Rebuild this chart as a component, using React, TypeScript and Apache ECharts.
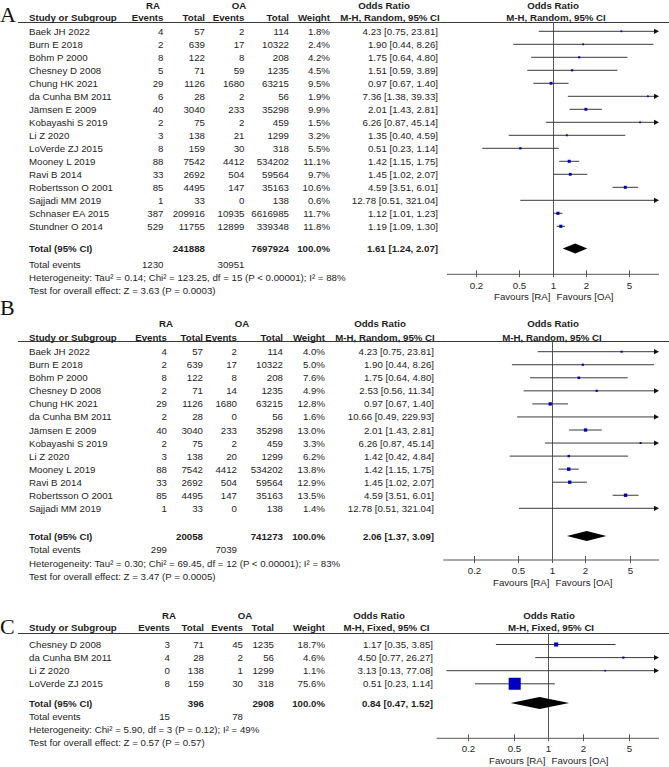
import React, { useEffect, useRef } from "react";
import * as echarts from "echarts";

// ---------------- Panel A data ----------------
const studiesA = ["Baek JH 2022", "Burn E 2018", "Böhm P 2000", "Chesney D 2008", "Chung HK 2021", "da Cunha BM 2011", "Jämsen E 2009", "Kobayashi S 2019", "Li Z 2020", "LoVerde ZJ 2015", "Mooney L 2019", "Ravi B 2014", "Robertsson O 2001", "Sajjadi MM 2019", "Schnaser EA 2015", "Stundner O 2014"];
const raEventsA = [4, 2, 8, 5, 29, 6, 40, 2, 3, 8, 88, 33, 85, 1, 387, 529];
const raTotalA = [57, 639, 122, 71, 1126, 28, 3040, 75, 138, 159, 7542, 2692, 4495, 33, 209916, 11755];
const oaEventsA = [2, 17, 8, 59, 1680, 2, 233, 2, 21, 30, 4412, 504, 147, 0, 10935, 12899];
const oaTotalA = [114, 10322, 208, 1235, 63215, 56, 35298, 459, 1299, 318, 534202, 59564, 35163, 138, 6616985, 339348];
const weightA = [1.8, 2.4, 4.2, 4.5, 9.5, 1.9, 9.9, 1.5, 3.2, 5.5, 11.1, 9.7, 10.6, 0.6, 11.7, 11.8];
const orA = [4.23, 1.9, 1.75, 1.51, 0.97, 7.36, 2.01, 6.26, 1.35, 0.51, 1.42, 1.45, 4.59, 12.78, 1.12, 1.19];
const loA = [0.75, 0.44, 0.64, 0.59, 0.67, 1.38, 1.43, 0.87, 0.4, 0.23, 1.15, 1.02, 3.51, 0.51, 1.01, 1.09];
const hiA = [23.81, 8.26, 4.8, 3.89, 1.4, 39.33, 2.81, 45.14, 4.59, 1.14, 1.75, 2.07, 6.01, 321.04, 1.23, 1.3];
const totalA = { raTotal: 241888, oaTotal: 7697924, or: 1.61, lo: 1.24, hi: 2.07, raEvents: 1230, oaEvents: 30951 };
const hetA = "Heterogeneity: Tau² = 0.14; Chi² = 123.25, df = 15 (P < 0.00001); I² = 88%";
const testA = "Test for overall effect: Z = 3.63 (P = 0.0003)";

// ---------------- Panel B data ----------------
const studiesB = ["Baek JH 2022", "Burn E 2018", "Böhm P 2000", "Chesney D 2008", "Chung HK 2021", "da Cunha BM 2011", "Jämsen E 2009", "Kobayashi S 2019", "Li Z 2020", "Mooney L 2019", "Ravi B 2014", "Robertsson O 2001", "Sajjadi MM 2019"];
const raEventsB = [4, 2, 8, 2, 29, 2, 40, 2, 3, 88, 33, 85, 1];
const raTotalB = [57, 639, 122, 71, 1126, 28, 3040, 75, 138, 7542, 2692, 4495, 33];
const oaEventsB = [2, 17, 8, 14, 1680, 0, 233, 2, 20, 4412, 504, 147, 0];
const oaTotalB = [114, 10322, 208, 1235, 63215, 56, 35298, 459, 1299, 534202, 59564, 35163, 138];
const weightB = [4.0, 5.0, 7.6, 4.9, 12.8, 1.6, 13.0, 3.3, 6.2, 13.8, 12.9, 13.5, 1.4];
const orB = [4.23, 1.9, 1.75, 2.53, 0.97, 10.66, 2.01, 6.26, 1.42, 1.42, 1.45, 4.59, 12.78];
const loB = [0.75, 0.44, 0.64, 0.56, 0.67, 0.49, 1.43, 0.87, 0.42, 1.15, 1.02, 3.51, 0.51];
const hiB = [23.81, 8.26, 4.8, 11.34, 1.4, 229.93, 2.81, 45.14, 4.84, 1.75, 2.07, 6.01, 321.04];
const totalB = { raTotal: 20058, oaTotal: 741273, or: 2.06, lo: 1.37, hi: 3.09, raEvents: 299, oaEvents: 7039 };
const hetB = "Heterogeneity: Tau² = 0.30; Chi² = 69.45, df = 12 (P < 0.00001); I² = 83%";
const testB = "Test for overall effect: Z = 3.47 (P = 0.0005)";

// ---------------- Panel C data ----------------
const studiesC = ["Chesney D 2008", "da Cunha BM 2011", "Li Z 2020", "LoVerde ZJ 2015"];
const raEventsC = [3, 4, 0, 8];
const raTotalC = [71, 28, 138, 159];
const oaEventsC = [45, 2, 1, 30];
const oaTotalC = [1235, 56, 1299, 318];
const weightC = [18.7, 4.6, 1.1, 75.6];
const orC = [1.17, 4.5, 3.13, 0.51];
const loC = [0.35, 0.77, 0.13, 0.23];
const hiC = [3.85, 26.27, 77.08, 1.14];
const totalC = { raTotal: 396, oaTotal: 2908, or: 0.84, lo: 0.47, hi: 1.52, raEvents: 15, oaEvents: 78 };
const hetC = "Heterogeneity: Chi² = 5.90, df = 3 (P = 0.12); I² = 49%";
const testC = "Test for overall effect: Z = 0.57 (P = 0.57)";

const tickValues = [0.2, 0.5, 1, 2, 5];
const tickLabels = ["0.2", "0.5", "1", "2", "5"];
const favoursLeft = "Favours [RA]";
const favoursRight = "Favours [OA]";

// ---------------- layout (positions only) ----------------
const layouts = [
  {
    letter: "A", letterY: 25, hdrY: 5.5, subY: 17.5, lineY: 22, row0: 31.3, step: 13.0,
    totalY: 248.5, eventsY: 264, hetY: 277.5, testY: 290.5, axisY: 274.3, tickY: 285.5, favY: 296.5,
    plotL: 447, plotR: 659, one: 552.5, ppd: 110, diamondH: 10,
    cols: { name: 29, raEv: 163.5, raTot: 205, oaEv: 244.5, oaTot: 289, wt: 330, or: 438 },
    raC: 153, oaC: 239, orHdrC: 384, mhC: 390, plotHdrC: 553, plotMhC: 556, method: "M-H, Random, 95% CI",
  },
  {
    letter: "B", letterY: 318, hdrY: 323.3, subY: 337, lineY: 341, row0: 351.7, step: 13.05,
    totalY: 536, eventsY: 549.3, hetY: 563, testY: 576, axisY: 560, tickY: 570.5, favY: 582,
    plotL: 443.3, plotR: 659, one: 551.7, ppd: 111.6, diamondH: 10,
    cols: { name: 29, raEv: 167, raTot: 203, oaEv: 237, oaTot: 283, wt: 325, or: 434 },
    raC: 166, oaC: 242, orHdrC: 380, mhC: 385, plotHdrC: 553, plotMhC: 552, method: "M-H, Random, 95% CI",
  },
  {
    letter: "C", letterY: 637, hdrY: 615.5, subY: 627.5, lineY: 633, row0: 644.5, step: 13.1,
    totalY: 703, eventsY: 716, hetY: 729, testY: 742, axisY: 738.3, tickY: 748.5, favY: 760,
    plotL: 436.7, plotR: 659, one: 548.3, ppd: 114.9, diamondH: 12,
    cols: { name: 29, raEv: 170, raTot: 204, oaEv: 243, oaTot: 274, wt: 325, or: 433 },
    raC: 169, oaC: 245, orHdrC: 379, mhC: 386.5, plotHdrC: 549, plotMhC: 551, method: "M-H, Fixed, 95% CI",
  },
];

const panelsData = [
  { names: studiesA, raEv: raEventsA, raTot: raTotalA, oaEv: oaEventsA, oaTot: oaTotalA, wt: weightA, or: orA, lo: loA, hi: hiA, total: totalA, het: hetA, test: testA },
  { names: studiesB, raEv: raEventsB, raTot: raTotalB, oaEv: oaEventsB, oaTot: oaTotalB, wt: weightB, or: orB, lo: loB, hi: hiB, total: totalB, het: hetB, test: testB },
  { names: studiesC, raEv: raEventsC, raTot: raTotalC, oaEv: oaEventsC, oaTot: oaTotalC, wt: weightC, or: orC, lo: loC, hi: hiC, total: totalC, het: hetC, test: testC },
];

const FONT = "Liberation Sans, Arimo, Arial, sans-serif";
const FS = 9.7;
const TXT = "#1e1e1e";
const LINE = "#3a3a3a";
const SQ = "#0000c0";

function txt(x: number, y: number, text: string, align = "left", bold = false): any {
  return {
    type: "text", x, y, silent: true,
    style: {
      text, fill: TXT, fontSize: FS, fontFamily: FONT, fontWeight: bold ? "bold" : "normal",
      textAlign: align, textVerticalAlign: "middle", align, verticalAlign: "middle",
    },
  };
}

const fmtCI = (o: number, l: number, h: number) => `${o.toFixed(2)} [${l.toFixed(2)}, ${h.toFixed(2)}]`;

function buildOption() {
  const grid: any[] = [];
  const xAxis: any[] = [];
  const yAxis: any[] = [];
  const series: any[] = [];
  const graphic: any[] = [];

  layouts.forEach((L, p) => {
    const D = panelsData[p];
    const yMaxRow = (L.axisY - L.row0) / L.step;
    const lineRow = (L.lineY - L.row0) / L.step;
    const totalRow = (L.totalY - L.row0) / L.step;
    grid.push({ left: L.plotL, width: L.plotR - L.plotL, top: L.row0, height: L.axisY - L.row0 });
    xAxis.push({
      type: "log", logBase: 10, gridIndex: p, show: false,
      min: Math.pow(10, -(L.one - L.plotL) / L.ppd),
      max: Math.pow(10, (L.plotR - L.one) / L.ppd),
    });
    yAxis.push({ type: "value", gridIndex: p, show: false, inverse: true, min: 0, max: yMaxRow });

    // table rows
    series.push({
      type: "custom", xAxisIndex: p, yAxisIndex: p, silent: true, clip: false,
      data: D.names.map((_, i) => [1, i]),
      encode: { x: 0, y: 1 },
      renderItem: (params: any, api: any) => {
        const i = params.dataIndex;
        const y = api.coord([1, api.value(1)])[1];
        const c = L.cols;
        return {
          type: "group",
          children: [
            txt(c.name, y, D.names[i], "left"),
            txt(c.raEv, y, String(D.raEv[i]), "right"),
            txt(c.raTot, y, String(D.raTot[i]), "right"),
            txt(c.oaEv, y, String(D.oaEv[i]), "right"),
            txt(c.oaTot, y, String(D.oaTot[i]), "right"),
            txt(c.wt, y, D.wt[i].toFixed(1) + "%", "right"),
            txt(c.or, y, fmtCI(D.or[i], D.lo[i], D.hi[i]), "right"),
          ],
        };
      },
    });

    // null line, axis line, favours labels
    series.push({
      type: "custom", xAxisIndex: p, yAxisIndex: p, silent: true, clip: false,
      data: [[1, lineRow, yMaxRow]],
      encode: { x: 0, y: 1 },
      renderItem: (params: any, api: any) => {
        const cs = params.coordSys;
        const top = api.coord([1, api.value(1)]);
        const bot = api.coord([1, api.value(2)]);
        const x = Math.round(top[0]) + 0.5;
        return {
          type: "group",
          children: [
            { type: "line", shape: { x1: x, y1: top[1], x2: x, y2: bot[1] }, style: { stroke: "#555", lineWidth: 1 } },
            { type: "line", shape: { x1: cs.x, y1: bot[1], x2: cs.x + cs.width, y2: bot[1] }, style: { stroke: "#555", lineWidth: 1 } },
            txt(x - 3, L.favY, favoursLeft, "right"),
            txt(x + 3, L.favY, favoursRight, "left"),
          ],
        };
      },
    });

    // ticks
    series.push({
      type: "custom", xAxisIndex: p, yAxisIndex: p, silent: true, clip: false,
      data: tickValues.map((t) => [t, yMaxRow]),
      encode: { x: 0, y: 1 },
      renderItem: (params: any, api: any) => {
        const pt = api.coord([api.value(0), api.value(1)]);
        const x = Math.round(pt[0]) + 0.5;
        return {
          type: "group",
          children: [
            { type: "line", shape: { x1: x, y1: pt[1] - 4, x2: x, y2: pt[1] + 3 }, style: { stroke: "#555", lineWidth: 1 } },
            txt(x, L.tickY, tickLabels[params.dataIndex], "center"),
          ],
        };
      },
    });

    // CIs and squares
    series.push({
      type: "custom", xAxisIndex: p, yAxisIndex: p, silent: true, clip: false,
      data: D.or.map((v, i) => [v, i, D.lo[i], D.hi[i], D.wt[i]]),
      encode: { x: 0, y: 1 },
      renderItem: (params: any, api: any) => {
        const cs = params.coordSys;
        const xMin = cs.x, xMax = cs.x + cs.width;
        const row = api.value(1);
        const pt = api.coord([api.value(0), row]);
        const y = pt[1];
        let xl = api.coord([api.value(2), row])[0];
        let xh = api.coord([api.value(3), row])[0];
        const arrowR = xh > xMax, arrowL = xl < xMin;
        xl = Math.max(xl, xMin);
        xh = Math.min(xh, xMax);
        const children: any[] = [];
        children.push({ type: "line", shape: { x1: arrowL ? xMin + 4 : xl, y1: y, x2: arrowR ? xMax - 4 : xh, y2: y }, style: { stroke: LINE, lineWidth: 1 } });
        if (arrowR) children.push({ type: "polygon", shape: { points: [[xMax, y], [xMax - 5, y - 2.6], [xMax - 5, y + 2.6]] }, style: { fill: "#111" } });
        if (arrowL) children.push({ type: "polygon", shape: { points: [[xMin, y], [xMin + 5, y - 2.6], [xMin + 5, y + 2.6]] }, style: { fill: "#111" } });
        if (pt[0] >= xMin && pt[0] <= xMax) {
          const s = 1.5 + 0.14 * api.value(4);
          children.push({ type: "rect", shape: { x: pt[0] - s / 2, y: y - s / 2, width: s, height: s }, style: { fill: SQ } });
        }
        return { type: "group", children };
      },
    });

    // diamond
    series.push({
      type: "custom", xAxisIndex: p, yAxisIndex: p, silent: true, clip: false,
      data: [[D.total.or, totalRow, D.total.lo, D.total.hi]],
      encode: { x: 0, y: 1 },
      renderItem: (params: any, api: any) => {
        const row = api.value(1);
        const c = api.coord([api.value(0), row]);
        const l = api.coord([api.value(2), row]);
        const h = api.coord([api.value(3), row]);
        const hh = L.diamondH / 2;
        return {
          type: "polygon",
          shape: { points: [[l[0], c[1]], [c[0], c[1] - hh], [h[0], c[1]], [c[0], c[1] + hh]] },
          style: { fill: "#000" },
        };
      },
    });

    // static texts
    const c = L.cols;
    graphic.push({
      type: "text", x: 0, y: L.letterY, silent: true,
      style: { text: L.letter, fill: "#111", fontSize: 22, fontFamily: "Liberation Serif, Times New Roman, serif", textVerticalAlign: "bottom", verticalAlign: "bottom", textAlign: "left", align: "left" },
    });
    graphic.push({ type: "line", silent: true, shape: { x1: 18, y1: L.lineY + 0.5, x2: 669, y2: L.lineY + 0.5 }, style: { stroke: LINE, lineWidth: 1 } });
    graphic.push(txt(L.raC, L.hdrY, "RA", "center", true));
    graphic.push(txt(L.oaC, L.hdrY, "OA", "center", true));
    graphic.push(txt(L.orHdrC, L.hdrY, "Odds Ratio", "center", true));
    graphic.push(txt(L.plotHdrC, L.hdrY, "Odds Ratio", "center", true));
    graphic.push(txt(c.name, L.subY, "Study or Subgroup", "left", true));
    graphic.push(txt(c.raEv, L.subY, "Events", "right", true));
    graphic.push(txt(c.raTot, L.subY, "Total", "right", true));
    graphic.push(txt(c.oaEv, L.subY, "Events", "right", true));
    graphic.push(txt(c.oaTot, L.subY, "Total", "right", true));
    graphic.push(txt(c.wt, L.subY, "Weight", "right", true));
    graphic.push(txt(L.mhC, L.subY, L.method, "center", true));
    graphic.push(txt(L.plotMhC, L.subY, L.method, "center", true));
    graphic.push(txt(c.name, L.totalY, "Total (95% CI)", "left", true));
    graphic.push(txt(c.raTot, L.totalY, String(D.total.raTotal), "right", true));
    graphic.push(txt(c.oaTot, L.totalY, String(D.total.oaTotal), "right", true));
    graphic.push(txt(c.wt, L.totalY, "100.0%", "right", true));
    graphic.push(txt(c.or, L.totalY, fmtCI(D.total.or, D.total.lo, D.total.hi), "right", true));
    graphic.push(txt(c.name, L.eventsY, "Total events", "left"));
    graphic.push(txt(c.raEv, L.eventsY, String(D.total.raEvents), "right"));
    graphic.push(txt(c.oaEv, L.eventsY, String(D.total.oaEvents), "right"));
    graphic.push(txt(c.name, L.hetY, D.het, "left"));
    graphic.push(txt(c.name, L.testY, D.test, "left"));
  });

  return { animation: false, backgroundColor: "#ffffff", grid, xAxis, yAxis, series, graphic };
}

export default function App() {
  const ref = useRef<HTMLDivElement>(null);
  useEffect(() => {
    if (!ref.current) return;
    const chart = echarts.init(ref.current, undefined, { renderer: "svg" });
    chart.setOption(buildOption() as any);
    return () => chart.dispose();
  }, []);
  return <div ref={ref} style={{ position: "absolute", left: 0, top: 0, width: 669, height: 767, background: "#fff" }} />;
}
